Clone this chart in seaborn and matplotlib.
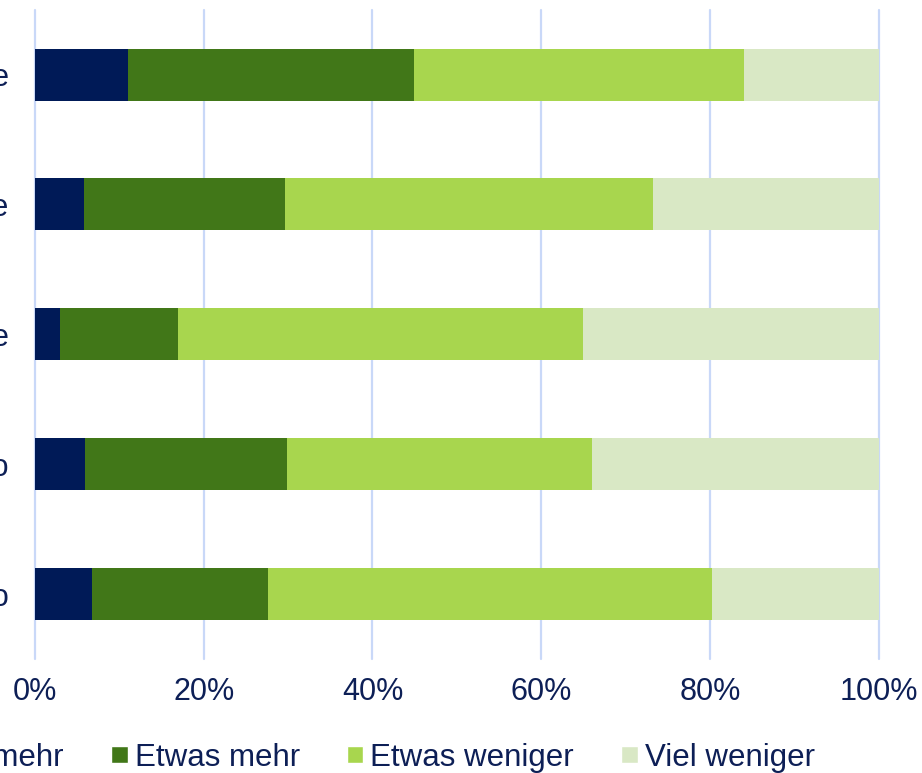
import numpy as np
import pandas as pd
import matplotlib
matplotlib.use("Agg")
import matplotlib.pyplot as plt
import seaborn as sns
from matplotlib.patches import Patch

# Style first, then the font list (set_style resets font.family)
sns.set_style("white")
plt.rcParams["font.family"] = ["Liberation Sans", "DejaVu Sans"]

# Data (shares in percent)
categories = [
    "Kleine Betriebe",
    "Mittlere Betriebe",
    "Große Betriebe",
    "Umsatz bis 1 Mio",
    "Umsatz über 1 Mio",
]
viel_mehr = [11.0, 5.8, 2.9, 5.9, 6.8]
etwas_mehr = [33.9, 23.8, 14.0, 24.0, 20.8]
etwas_weniger = [39.1, 43.7, 48.1, 36.1, 52.6]
viel_weniger = [16.0, 26.7, 35.0, 34.0, 19.8]

series_names = ["Viel mehr", "Etwas mehr", "Etwas weniger", "Viel weniger"]
colors = ["#001A57", "#417718", "#A8D64E", "#D9E8C5"]
x_ticks = [0, 20, 40, 60, 80, 100]
text_color = "#0D1F56"

df = pd.DataFrame({
    "Kategorie": categories,
    "Viel mehr": viel_mehr,
    "Etwas mehr": etwas_mehr,
    "Etwas weniger": etwas_weniger,
    "Viel weniger": viel_weniger,
})

# Cumulative sums so the bars can be layered into a stack
df_cum = df[series_names].cumsum(axis=1)
df_cum["Kategorie"] = df["Kategorie"]

fig = plt.figure(figsize=(9.22, 7.73), dpi=100)
ax = fig.add_axes([0.038, 0.1475, 0.915, 0.84])

# Draw the longest layer first, then the shorter ones on top
for name, color in reversed(list(zip(series_names, colors))):
    sns.barplot(
        data=df_cum,
        x=name,
        y="Kategorie",
        color=color,
        saturation=1,
        width=0.4,
        orient="h",
        errorbar=None,
        linewidth=0,
        ax=ax,
    )

ax.set_xlim(0, 100)
ax.set_ylim(4.5, -0.5)
ax.set_xticks(x_ticks)
ax.set_xticklabels([f"{t}%" for t in x_ticks])
ax.set_xlabel("")
ax.set_ylabel("")

# Light blue vertical gridlines, no spines
ax.grid(axis="x", color="#C9D8F8", linewidth=1.6)
ax.set_axisbelow(True)
for line in ax.get_xgridlines():
    line.set_clip_on(False)
for spine in ax.spines.values():
    spine.set_visible(False)

ax.tick_params(axis="x", length=0, labelsize=22, colors=text_color, pad=13)
ax.tick_params(axis="y", length=0, labelsize=22, colors=text_color, pad=19)

# Legend along the bottom, running off the left edge like the original
handles = [Patch(facecolor=c, label=n) for n, c in zip(series_names, colors)]
fig.legend(
    handles=handles,
    loc="center left",
    bbox_to_anchor=(-0.116, 0.02),
    ncol=4,
    frameon=False,
    fontsize=22.5,
    handlelength=0.54,
    handleheight=0.5,
    handletextpad=0.22,
    columnspacing=1.5,
    borderpad=0,
    labelcolor=text_color,
)

fig.savefig("out.png", dpi=100)
